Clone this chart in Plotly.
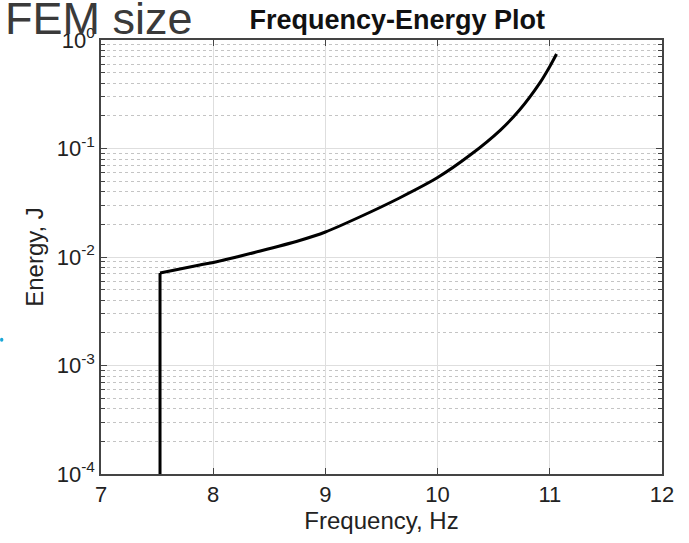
import plotly.graph_objects as go

# Data
step_freq_hz = [7.526, 7.526]
step_energy_j = [1e-4, 0.00712]

freq_hz = [7.526, 7.88, 7.99, 8.42, 8.77, 9.0, 9.31, 9.66, 10.0,
           10.29, 10.56, 10.73, 10.91, 11.0, 11.06]
energy_j = [0.00712, 0.00844, 0.00886, 0.01136, 0.0142, 0.0170, 0.0235,
            0.035, 0.054, 0.087, 0.148, 0.226, 0.40, 0.57, 0.743]

x_ticks = [7, 8, 9, 10, 11, 12]
y_tickvals = [1e-4, 1e-3, 1e-2, 1e-1, 1e0]
y_ticktext = ["10<sup>-4</sup>", "10<sup>-3</sup>", "10<sup>-2</sup>",
              "10<sup>-1</sup>", "10<sup>0</sup>"]

FONT = "Liberation Sans, Arial, sans-serif"

fig = go.Figure()
fig.add_trace(go.Scatter(x=step_freq_hz, y=step_energy_j, mode="lines",
                         line=dict(color="black", width=3),
                         showlegend=False, hoverinfo="skip"))
fig.add_trace(go.Scatter(x=freq_hz, y=energy_j, mode="lines",
                         line=dict(color="black", width=3, shape="spline", smoothing=0.8),
                         showlegend=False, hoverinfo="skip"))

axis_common = dict(showline=True, linecolor="#444", linewidth=1.5, mirror="ticks",
                   ticks="inside", ticklen=6, tickcolor="#444", automargin=False,
                   tickfont=dict(family=FONT, size=22, color="#222"),
                   showgrid=True, gridcolor="#dedede", gridwidth=1, zeroline=False)

fig.update_xaxes(range=[7, 12], tickvals=x_ticks, ticktext=[str(v) for v in x_ticks],
                 title=dict(text="Frequency, Hz", font=dict(family=FONT, size=24, color="#222"),
                            standoff=6),
                 **axis_common)
fig.update_yaxes(type="log", range=[-4, 0], tickvals=y_tickvals, ticktext=y_ticktext,
                 title=dict(text="Energy, J", font=dict(family=FONT, size=24, color="#222"),
                            standoff=6),
                 minor=dict(ticks="inside", ticklen=4, tickcolor="#444", dtick="D1",
                            showgrid=True, gridcolor="#c4c4c4", griddash="dot", gridwidth=1),
                 **axis_common)

fig.update_layout(
    width=689, height=543,
    margin=dict(l=101, r=27, t=40, b=69),
    paper_bgcolor="white", plot_bgcolor="white",
    title=dict(text="<b>Frequency-Energy Plot</b>", x=0.528, xref="paper", xanchor="center",
               y=1 - 20 / 543, yref="container", yanchor="middle",
               font=dict(family=FONT, size=27, color="#111")),
    annotations=[dict(text="FEM size", xref="paper", yref="paper", x=-0.174, y=1.05,
                      xanchor="left", yanchor="middle", showarrow=False,
                      font=dict(family=FONT, size=45, color="#3a3a3a"))],
    shapes=[dict(type="circle", xref="paper", yref="paper",
                 x0=-0.180, x1=-0.174, y0=0.305, y1=0.314,
                 fillcolor="#1aa7d8", line=dict(width=0))],
)

fig.write_html("out.html", config={"displayModeBar": False},
               post_script="document.body.style.margin='0px';")
